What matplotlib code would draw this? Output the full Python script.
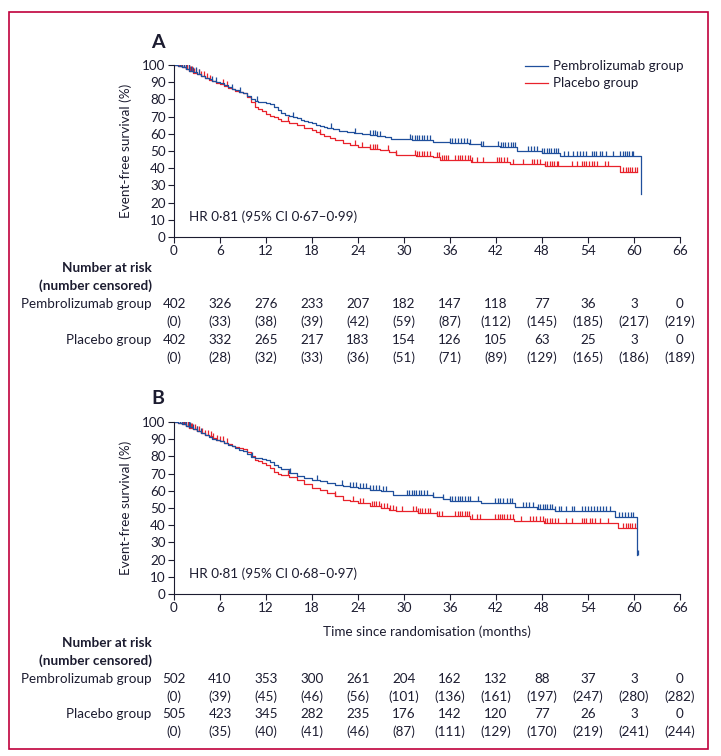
import numpy as np
import matplotlib
matplotlib.use('Agg')
import matplotlib.pyplot as plt
from matplotlib import font_manager
from matplotlib.path import Path
from matplotlib.patches import Rectangle
from matplotlib.transforms import blended_transform_factory

# narrow font if one is installed
fonts = font_manager.fontManager.ttflist
names = {f.name for f in fonts}
if 'Liberation Sans Narrow' in names:
    plt.rcParams['font.family'] = ['Liberation Sans Narrow', 'DejaVu Sans']
    FS = 10
else:
    plt.rcParams['font.family'] = ['Lato', 'DejaVu Sans']
    FS = 9.7
plt.rcParams['font.size'] = FS

TXT = '#1c1c30'
BLUE = '#1f4f9c'
RED = '#e8222b'

# --- panel A curves (months, event-free survival %) ---
a_pem_t = [0, 0.5, 1, 1.5, 2, 2.5, 3, 3.5, 4, 4.5, 5, 5.5, 6, 6.5, 7, 7.5, 8, 8.5, 9, 9.5, 10, 10.5, 11, 12,
           12.5, 13, 13.5, 14, 14.5, 15, 15.5, 16, 16.5, 17, 17.5, 18, 18.5, 19, 19.5, 20, 20.8, 21.5, 22.5,
           23.5, 24.5, 25.5, 26.5, 27.5, 28.3, 29, 31, 33.8, 36, 38.5, 40, 42.5, 44.7, 46, 48, 50.3, 60.9]
a_pem_s = [100, 99.5, 98.8, 97.8, 96.8, 95.8, 94.6, 93.6, 92.5, 91.6, 90.8, 90.0, 89.3, 88.2, 87.0, 86.0, 85.2,
           84.5, 83.8, 82.0, 80.3, 78.8, 78.3, 78.0, 77.3, 75.8, 73.8, 72.2, 71.2, 70.5, 69.6, 68.9, 68.0, 67.2,
           66.6, 66.0, 65.3, 64.6, 64.0, 63.3, 62.6, 61.8, 61.0, 60.4, 59.9, 59.2, 58.6, 58.0, 57.2, 56.8, 56.4,
           55.4, 54.5, 54.1, 53.0, 52.1, 50.2, 49.8, 48.6, 47.3, 25.0]
a_pla_t = [0, 0.5, 1, 1.5, 2, 2.5, 3, 3.5, 4, 4.5, 5, 5.5, 6, 6.5, 7, 7.5, 8, 8.5, 9, 9.5, 10, 10.5, 11, 11.5,
           12, 12.5, 13, 13.5, 14, 15, 16, 17, 18, 18.5, 19, 19.5, 20.3, 21, 22, 23, 24, 25.5, 26.9, 28, 29,
           31.5, 33.8, 34.7, 38.8, 43.8, 48.4, 58.2, 60.4]
a_pla_s = [100, 99.4, 98.6, 97.6, 96.6, 95.6, 94.6, 93.5, 92.5, 91.5, 90.6, 89.8, 89.2, 88.0, 86.8, 85.8, 85.0,
           84.3, 83.6, 81.5, 78.5, 75.5, 74.5, 73.2, 71.5, 70.5, 69.5, 68.4, 67.5, 66.2, 64.9, 63.6, 62.0, 60.9,
           59.6, 58.5, 57.4, 56.2, 54.6, 53.2, 52.1, 51.4, 50.6, 49.2, 47.7, 47.0, 46.7, 44.8, 43.4, 42.4, 41.3,
           38.0, 38.0]
a_pem_cens = [0.8, 1.0, 1.3, 1.6, 1.9, 2.2, 2.5, 2.9, 3.3, 5.0, 5.5, 7.6, 8.6, 10.8, 15.5, 20.5, 23.6, 25.6,
              25.9, 26.2, 26.5, 26.9, 30.8, 31.1, 31.4, 31.7, 32.0, 32.3, 32.6, 33.0, 33.4, 36.0, 36.3, 36.6,
              37.0, 37.4, 37.8, 38.2, 38.6, 40.0, 40.3, 42.3, 42.6, 42.9, 43.2, 43.5, 43.9, 44.2, 44.5, 46.2,
              46.6, 47.0, 47.3, 48.0, 48.3, 48.6, 48.9, 49.2, 49.5, 49.8, 50.1, 50.9, 51.4, 52.0, 52.5, 53.0,
              53.4, 53.8, 54.5, 54.8, 55.1, 55.5, 55.8, 56.4, 57.2, 58.2, 58.5, 58.8, 59.1, 59.4, 59.7, 59.9]
a_pla_cens = [0.5, 0.7, 0.9, 1.1, 1.3, 1.5, 1.7, 1.9, 2.1, 2.3, 2.6, 2.9, 3.2, 3.5, 3.9, 4.3, 4.7, 6.4, 6.9,
              14.9, 19.0, 23.6, 24.5, 25.6, 25.9, 26.2, 26.5, 27.9, 29.0, 31.4, 31.7, 32.0, 32.3, 32.6, 33.0,
              33.4, 34.3, 34.6, 34.9, 35.2, 35.5, 35.8, 36.7, 37.0, 37.3, 37.6, 38.0, 38.3, 38.6, 38.9, 39.5,
              40.3, 42.1, 42.4, 42.7, 43.0, 43.4, 44.2, 45.5, 46.7, 47.0, 47.4, 47.7, 48.4, 48.7, 49.0, 49.3,
              49.6, 49.9, 50.1, 51.9, 52.6, 53.2, 53.5, 53.8, 54.1, 54.5, 54.8, 55.2, 56.2, 56.6, 58.6, 58.9,
              59.2, 59.5, 59.8, 60.1, 60.4]

# --- panel B curves ---
b_pem_t = [0, 0.5, 1, 1.5, 2, 2.5, 3, 3.5, 4, 4.5, 5, 5.5, 6, 6.5, 7, 7.5, 8, 8.5, 9, 9.5, 10, 10.5, 11.5, 12,
           12.5, 13, 13.5, 14, 15, 16, 17, 18, 19, 20, 21, 22, 23, 24, 25.5, 27, 28.5, 31.5, 33.8, 35.1, 36,
           40.1, 44.5, 47.3, 49.7, 57.5, 60.4]
b_pem_s = [100, 99.5, 98.8, 97.9, 96.9, 95.8, 94.7, 93.6, 92.5, 91.4, 90.4, 89.5, 88.8, 87.8, 86.8, 85.8, 85.0,
           84.0, 83.0, 81.5, 79.7, 78.9, 78.4, 78.1, 76.8, 75.2, 74.0, 72.7, 70.6, 68.8, 67.6, 66.5, 65.5, 64.5,
           63.5, 62.6, 62.0, 61.6, 60.7, 59.7, 57.8, 57.4, 56.2, 55.2, 54.3, 52.7, 50.8, 49.6, 48.3, 45.0, 22.7]
b_pla_t = [0, 0.5, 1, 1.5, 2, 2.5, 3, 3.5, 4, 4.5, 5, 5.5, 6, 6.5, 7, 7.5, 8, 8.5, 9, 9.5, 10, 10.5, 11, 11.5,
           12, 12.5, 13, 13.5, 14, 15, 16, 17, 18, 19, 20, 21, 22, 23, 24, 25.5, 27, 28, 29, 31.8, 34.3, 38.6,
           44.3, 48.2, 57.9, 60.3]
b_pla_s = [100, 99.4, 98.7, 97.8, 96.8, 95.8, 94.8, 93.7, 92.6, 91.6, 90.7, 89.8, 89.0, 88.0, 87.0, 86.2, 85.5,
           84.9, 84.3, 82.3, 80.0, 78.1, 77.2, 76.3, 75.2, 73.0, 70.7, 70.0, 69.4, 67.9, 66.5, 64.2, 61.6, 60.2,
           58.7, 56.7, 54.8, 53.8, 52.9, 51.4, 50.0, 49.0, 48.0, 46.9, 45.3, 43.4, 42.4, 41.1, 38.2, 38.2]
b_pem_cens = [0.8, 1.0, 1.3, 1.6, 1.9, 2.1, 2.5, 3.0, 3.5, 10.2, 15.1, 18.6, 21.9, 23.0, 23.4, 23.8, 24.2, 24.6,
              25.0, 25.6, 26.0, 26.4, 26.8, 27.2, 27.6, 30.4, 30.7, 31.0, 31.3, 31.6, 31.9, 32.2, 32.6, 33.0,
              33.8, 35.1, 36.0, 36.3, 36.6, 37.0, 37.3, 37.6, 38.0, 38.3, 38.6, 39.7, 41.9, 42.2, 42.5, 42.9,
              43.4, 43.8, 44.1, 45.5, 45.9, 46.3, 46.8, 47.5, 47.8, 48.1, 48.4, 48.7, 49.0, 49.3, 49.7, 50.2,
              50.5, 51.1, 51.9, 52.2, 53.2, 53.6, 54.0, 54.4, 54.8, 55.2, 55.6, 56.0, 56.4, 56.9, 58.0, 58.4,
              58.8, 59.2, 59.6, 59.9, 60.5]
b_pla_cens = [0.8, 1.0, 1.2, 1.4, 1.6, 1.8, 2.0, 2.2, 2.4, 2.7, 3.0, 3.3, 3.6, 4.0, 4.4, 4.8, 5.1, 5.6, 6.0,
              6.4, 6.9, 14.9, 21.0, 23.4, 24.2, 24.6, 25.8, 26.1, 26.4, 26.7, 27.0, 27.4, 27.8, 28.2, 28.6,
              29.0, 29.7, 31.2, 31.5, 31.8, 32.1, 32.4, 32.8, 33.1, 33.4, 34.3, 34.6, 34.9, 36.7, 37.0, 37.3,
              37.6, 37.9, 38.2, 38.5, 38.9, 39.5, 39.9, 41.9, 42.2, 42.5, 42.8, 43.1, 43.4, 43.8, 44.2, 45.2,
              46.4, 46.8, 47.2, 47.7, 48.1, 48.4, 48.7, 49.0, 49.3, 49.7, 50.1, 51.1, 51.9, 53.2, 53.5, 53.8,
              54.2, 54.5, 54.9, 55.6, 56.6, 58.6, 58.9, 59.2, 59.5, 59.8, 60.1]

# --- numbers at risk (number censored) ---
risk_times = [0, 6, 12, 18, 24, 30, 36, 42, 48, 54, 60, 66]
a_pem_risk = [402, 326, 276, 233, 207, 182, 147, 118, 77, 36, 3, 0]
a_pem_cen = [0, 33, 38, 39, 42, 59, 87, 112, 145, 185, 217, 219]
a_pla_risk = [402, 332, 265, 217, 183, 154, 126, 105, 63, 25, 3, 0]
a_pla_cen = [0, 28, 32, 33, 36, 51, 71, 89, 129, 165, 186, 189]
b_pem_risk = [502, 410, 353, 300, 261, 204, 162, 132, 88, 37, 3, 0]
b_pem_cen = [0, 39, 45, 46, 56, 101, 136, 161, 197, 247, 280, 282]
b_pla_risk = [505, 423, 345, 282, 235, 176, 142, 120, 77, 26, 3, 0]
b_pla_cen = [0, 35, 40, 41, 46, 87, 111, 129, 170, 219, 241, 244]

W, H = 721, 756
fig = plt.figure(figsize=(W / 100, H / 100), dpi=100)

# censor tick: vertical line going up from the curve
tick = Path([(0, 0), (0, 1)])


def step_at(t, s, x):
    i = np.searchsorted(np.array(t), np.array(x), side='right') - 1
    return np.array(s)[i]


def km_panel(top, letter, hr_text, pem, pla, xlabel=False, legend=False):
    left, right, bot = 174, 680, top + 172
    ax = fig.add_axes([left / W, 1 - bot / H, (right - left) / W, 172 / H])
    for (t, s, cens), col in ((pla, RED), (pem, BLUE)):
        ax.plot(t, s, drawstyle='steps-post', color=col, lw=0.9)
        ax.plot(cens, step_at(t, s, cens), ls='none', marker=tick, ms=7, mew=0.9, color=col)
    ax.set_xlim(0, 66)
    ax.set_ylim(0, 100)
    ax.set_xticks(risk_times)
    ax.set_yticks(np.arange(0, 101, 10))
    for sp in ('top', 'right'):
        ax.spines[sp].set_visible(False)
    for sp in ('left', 'bottom'):
        ax.spines[sp].set_color(TXT)
        ax.spines[sp].set_linewidth(0.8)
    ax.tick_params(colors=TXT, labelsize=FS, length=4, width=0.8, pad=2)
    ax.set_ylabel('Event-free survival (%)', color=TXT, fontsize=FS)
    ax.yaxis.set_label_coords((132 - left) / (right - left), 0.5)
    if xlabel:
        ax.set_xlabel('Time since randomisation (months)', color=TXT, fontsize=FS)
        ax.xaxis.set_label_coords(0.5, -31 / 172)
    ax.text(2, 12, hr_text, color=TXT, fontsize=FS, va='center')
    fig.text(151 / W, 1 - (top - 23) / H, letter, fontsize=14, fontweight='bold', color=TXT, va='center')
    if legend:
        for i, (lab, col) in enumerate((('Pembrolizumab group', BLUE), ('Placebo group', RED))):
            y = 1 - (66 + 17 * i) / H
            fig.add_artist(plt.Line2D([525 / W, 548 / W], [y, y], color=col, lw=0.9))
            fig.text(553 / W, y, lab, color=TXT, fontsize=FS, va='center')
    return ax


def risk_table(ax, rows_y, pem_r, pem_c, pla_r, pla_c):
    tr = blended_transform_factory(ax.transData, fig.transFigure)
    fy = [1 - y / H for y in rows_y]
    ax.text(-2.9, fy[0], 'Number at risk', transform=tr, ha='right', va='center',
            fontweight='bold', color=TXT, fontsize=FS)
    ax.text(-2.9, fy[1], '(number censored)', transform=tr, ha='right', va='center',
            fontweight='bold', color=TXT, fontsize=FS)
    ax.text(-2.9, fy[2], 'Pembrolizumab group', transform=tr, ha='right', va='center', color=TXT, fontsize=FS)
    ax.text(-2.9, fy[4], 'Placebo group', transform=tr, ha='right', va='center', color=TXT, fontsize=FS)
    for x, r1, c1, r2, c2 in zip(risk_times, pem_r, pem_c, pla_r, pla_c):
        for val, y in ((str(r1), fy[2]), ('(%d)' % c1, fy[3]), (str(r2), fy[4]), ('(%d)' % c2, fy[5])):
            ax.text(x, y, val, transform=tr, ha='center', va='center', color=TXT, fontsize=FS)


axA = km_panel(65, 'A', 'HR 0·81 (95% CI 0·67–0·99)',
               (a_pem_t, a_pem_s, a_pem_cens), (a_pla_t, a_pla_s, a_pla_cens), legend=True)
risk_table(axA, [268, 286, 304, 322, 340, 358], a_pem_risk, a_pem_cen, a_pla_risk, a_pla_cen)

axB = km_panel(422, 'B', 'HR 0·81 (95% CI 0·68–0·97)',
               (b_pem_t, b_pem_s, b_pem_cens), (b_pla_t, b_pla_s, b_pla_cens), xlabel=True)
risk_table(axB, [643, 661, 679, 697, 714, 732], b_pem_risk, b_pem_cen, b_pla_risk, b_pla_cen)

# frame round the figure
fig.add_artist(Rectangle((9 / W, 1 - 749 / H), (708 - 9) / W, (749 - 12) / H, transform=fig.transFigure,
                         fill=False, edgecolor='#c0003c', lw=1.2))

fig.savefig('out.png', dpi=100)
